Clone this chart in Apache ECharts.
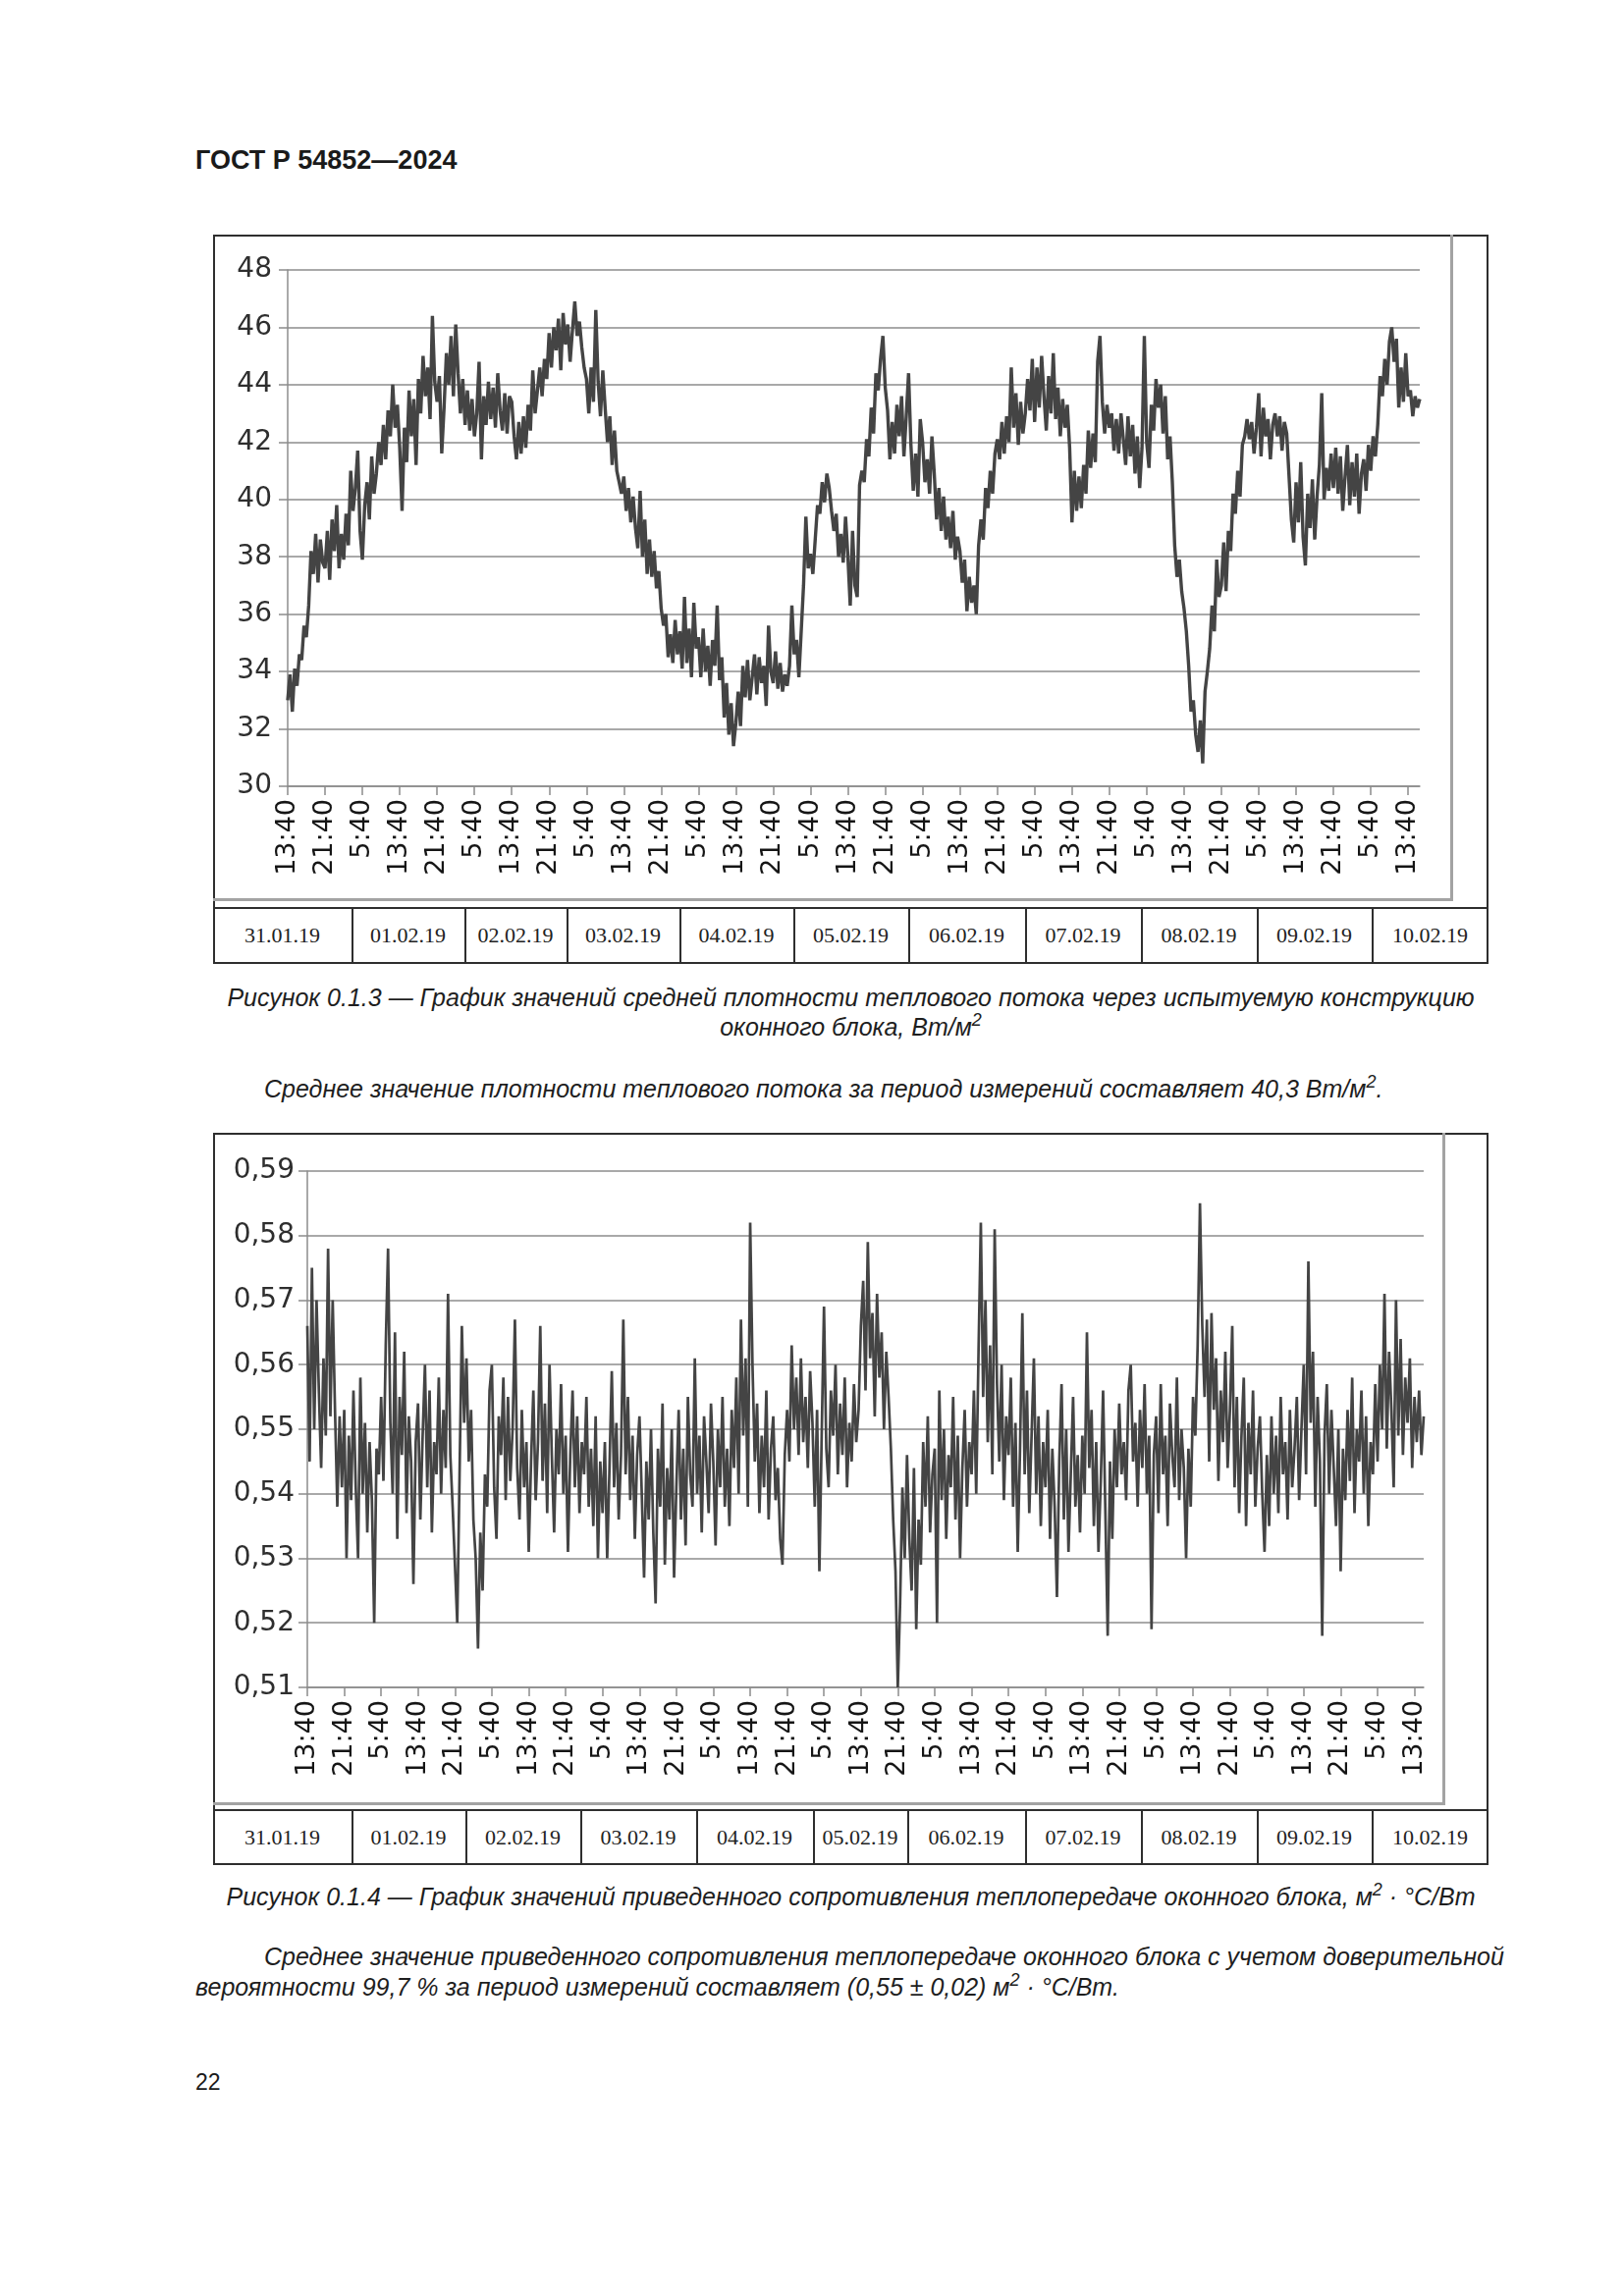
<!DOCTYPE html>
<html><head><meta charset="utf-8">
<script src="https://cdn.jsdelivr.net/npm/echarts@6/dist/echarts.min.js"></script>
<style>
html,body{margin:0;padding:0;background:#fff;}
body{width:1654px;height:2339px;position:relative;overflow:hidden;font-family:'Liberation Sans',Arial,sans-serif;color:#1a1a1a;}
.abs{position:absolute;}
.it{font-style:italic;font-size:25px;line-height:30px;white-space:nowrap;color:#1e1e1e;}
.it sup{font-size:0.72em;line-height:0;position:relative;top:-0.05em;vertical-align:super;}
.frame{position:absolute;border:2px solid #2e2e2e;box-sizing:border-box;}
.inner{position:absolute;border-right:3px solid #a3a3a3;border-bottom:3px solid #a3a3a3;box-sizing:border-box;}
.tline{position:absolute;background:#2e2e2e;}
.cell{position:absolute;font-family:'Liberation Serif','Times New Roman',serif;font-size:22px;color:#222;text-align:center;}
</style></head>
<body>
<div class="abs" style="left:199px;top:147px;font-weight:bold;font-size:27px;line-height:32px;color:#1a1a1a;">ГОСТ Р 54852—2024</div>

<div class="frame" style="left:217px;top:239px;width:1299px;height:743px;"></div>
<div class="inner" style="left:217px;top:239px;width:1263px;height:679px;"></div>
<div id="c1" class="abs" style="left:217px;top:239px;width:1263px;height:676px;"></div>
<div id="t1"></div>

<div class="abs it" style="left:217px;width:1299px;text-align:center;top:1001px;">Рисунок 0.1.3 — График значений средней плотности теплового потока через испытуемую конструкцию</div>
<div class="abs it" style="left:217px;width:1299px;text-align:center;top:1031px;">оконного блока, Вт/м<sup>2</sup></div>
<div class="abs it" style="left:269px;top:1094px;">Среднее значение плотности теплового потока за период измерений составляет 40,3 Вт/м<sup>2</sup>.</div>

<div class="frame" style="left:217px;top:1154px;width:1299px;height:746px;"></div>
<div class="inner" style="left:217px;top:1154px;width:1255px;height:685px;"></div>
<div id="c2" class="abs" style="left:217px;top:1154px;width:1255px;height:682px;"></div>
<div id="t2"></div>

<div class="abs it" style="left:217px;width:1299px;text-align:center;top:1917px;">Рисунок 0.1.4 — График значений приведенного сопротивления теплопередаче оконного блока, м<sup>2</sup> · °С/Вт</div>
<div class="abs it" style="left:269px;top:1978px;">Среднее значение приведенного сопротивления теплопередаче оконного блока с учетом доверительной</div>
<div class="abs it" style="left:199px;top:2009px;">вероятности 99,7 % за период измерений составляет (0,55 ± 0,02) м<sup>2</sup> · °С/Вт.</div>

<div class="abs" style="left:199px;top:2106px;font-size:23px;line-height:30px;">22</div>

<script>
// ---------- data ----------
const tickLabels = ['13:40','21:40','5:40','13:40','21:40','5:40','13:40','21:40','5:40','13:40','21:40','5:40','13:40','21:40','5:40','13:40','21:40','5:40','13:40','21:40','5:40','13:40','21:40','5:40','13:40','21:40','5:40','13:40','21:40','5:40','13:40'];
const dates = ['31.01.19','01.02.19','02.02.19','03.02.19','04.02.19','05.02.19','06.02.19','07.02.19','08.02.19','09.02.19','10.02.19'];
const stepHours = 0.5;      // measurement step, hours from 13:40 31.01.19
const tickHours = 8;        // hours between tick labels

// mean heat flux density, W/m2 (every 30 min)
const heatFlux = [
33.0,33.9,32.6,34.1,33.5,34.6,34.4,35.6,35.2,36.3,38.2,37.4,38.8,37.1,38.6,37.8,
37.6,38.9,37.2,39.3,38.2,39.8,37.6,38.8,37.9,39.5,38.4,41.0,39.6,40.4,41.7,38.9,
37.9,39.8,40.6,39.3,41.5,40.2,40.9,42.0,41.2,42.6,41.4,43.1,42.2,44.0,42.5,43.3,
41.8,39.6,42.5,41.3,43.8,42.2,43.5,41.2,44.2,43.0,45.0,43.6,44.6,42.8,46.4,44.1,
43.4,44.3,41.6,43.2,45.1,44.0,45.7,43.6,46.1,44.4,43.0,44.2,42.6,43.8,42.4,43.5,
42.2,43.0,44.8,41.4,43.6,42.6,44.1,42.8,43.9,42.5,44.4,43.1,42.4,43.7,42.3,43.6,
43.4,42.2,41.4,42.7,41.6,42.9,41.8,43.3,42.4,44.5,43.0,43.8,44.6,43.6,44.9,44.2,
45.8,44.6,46.0,45.2,46.3,44.5,46.5,45.4,46.1,44.8,45.9,46.9,45.7,46.2,45.3,44.6,
44.2,43.0,44.6,43.4,46.6,44.1,42.9,44.5,43.2,42.0,42.9,41.2,42.4,41.0,40.6,40.2,
40.8,39.6,40.4,39.2,40.1,39.0,38.3,40.3,38.0,39.3,37.4,38.6,37.3,38.2,36.9,37.5,
36.2,35.6,36.0,34.5,35.3,34.3,35.8,34.6,35.4,34.1,36.6,34.3,35.5,33.8,36.4,34.8,
35.2,33.8,35.5,34.0,34.9,33.5,35.1,34.2,36.3,33.7,34.5,32.4,33.6,31.8,32.9,31.4,
32.2,33.3,32.1,34.2,33.1,34.4,33.0,33.8,34.6,33.2,34.5,33.6,34.2,32.8,35.6,34.0,
33.6,34.7,33.4,34.3,33.3,33.9,33.5,34.2,36.3,34.6,35.1,33.8,35.4,37.0,39.4,37.6,
38.1,37.4,38.6,39.8,39.5,40.6,39.9,40.9,40.4,39.6,38.9,39.5,38.0,38.8,37.8,39.4,
38.0,36.3,38.9,37.0,36.6,40.5,41.0,40.6,42.1,41.5,43.2,42.3,44.4,43.8,44.9,45.7,
43.9,43.1,41.4,42.7,41.6,43.3,42.2,43.6,41.5,42.9,44.4,41.9,40.3,41.6,40.1,42.8,
42.0,40.6,41.4,40.2,42.2,40.9,39.3,40.4,38.9,40.1,38.6,39.4,38.3,39.6,37.9,38.7,
38.2,37.1,37.9,36.1,37.3,36.4,37.0,36.0,38.4,39.3,38.6,40.4,39.7,41.0,40.2,41.6,
42.1,41.4,42.7,41.6,42.9,42.0,44.6,42.5,43.7,41.9,43.4,42.3,43.0,44.2,43.1,44.9,
42.7,44.6,43.2,45.0,43.6,42.4,44.3,43.0,45.1,42.8,43.9,42.2,43.5,42.5,43.3,41.8,
39.2,41.0,39.6,40.8,39.7,41.2,40.2,42.4,41.1,42.3,41.3,44.8,45.7,43.4,42.3,43.3,
42.5,43.0,41.7,42.8,41.6,43.0,42.1,41.2,42.9,41.5,42.6,40.9,42.2,40.4,41.8,45.7,
42.0,41.1,43.3,42.4,44.2,43.2,44.0,42.3,43.6,41.4,42.2,40.6,38.4,37.3,37.9,36.8,
36.2,35.4,34.2,32.6,33.0,31.8,31.2,32.3,30.8,33.3,34.0,34.8,36.3,35.4,37.9,36.6,
37.0,38.5,36.8,38.9,38.2,40.2,39.5,41.0,40.1,41.9,42.2,42.8,42.1,42.7,41.6,42.5,
43.7,41.5,43.2,42.2,42.8,41.4,42.6,43.0,42.2,42.9,41.7,42.7,42.3,40.8,39.3,38.5,
40.6,39.2,41.3,38.7,37.7,40.2,39.0,40.7,38.6,40.1,41.2,43.7,40.0,41.1,40.3,41.6,
40.4,41.8,40.2,41.5,39.6,40.8,41.9,39.8,41.3,40.1,41.6,39.5,40.9,41.4,40.3,41.9,
41.0,42.2,41.5,42.6,44.3,43.6,44.9,44.0,45.5,46.0,44.8,45.6,43.2,44.6,43.4,45.1,
43.6,43.8,42.9,43.6,43.2,43.5
];

// reduced thermal resistance, m2*C/W (every 30 min)
const resistance = [
0.566,0.545,0.575,0.550,0.570,0.556,0.544,0.561,0.549,0.578,0.552,0.570,0.553,0.538,0.552,0.541,
0.553,0.530,0.549,0.539,0.556,0.541,0.530,0.558,0.540,0.551,0.534,0.548,0.539,0.520,0.547,0.543,
0.555,0.542,0.563,0.578,0.551,0.540,0.565,0.533,0.555,0.546,0.562,0.537,0.552,0.545,0.526,0.548,
0.554,0.536,0.549,0.560,0.541,0.556,0.534,0.548,0.543,0.558,0.540,0.553,0.544,0.571,0.546,0.538,
0.529,0.520,0.543,0.566,0.551,0.561,0.545,0.553,0.536,0.530,0.516,0.534,0.525,0.543,0.538,0.556,
0.560,0.541,0.533,0.552,0.546,0.558,0.539,0.555,0.542,0.550,0.567,0.544,0.536,0.553,0.541,0.548,
0.531,0.545,0.556,0.539,0.548,0.566,0.542,0.554,0.537,0.560,0.546,0.534,0.550,0.543,0.557,0.540,
0.549,0.531,0.546,0.556,0.541,0.552,0.537,0.548,0.543,0.555,0.538,0.547,0.535,0.552,0.530,0.545,
0.537,0.548,0.530,0.544,0.559,0.541,0.551,0.536,0.546,0.567,0.543,0.555,0.539,0.549,0.533,0.546,
0.552,0.540,0.527,0.545,0.536,0.550,0.534,0.523,0.547,0.538,0.554,0.529,0.544,0.536,0.550,0.527,
0.541,0.553,0.536,0.547,0.532,0.555,0.543,0.538,0.561,0.540,0.549,0.534,0.552,0.545,0.537,0.554,
0.545,0.532,0.550,0.541,0.555,0.538,0.547,0.535,0.553,0.544,0.558,0.540,0.567,0.549,0.561,0.538,
0.582,0.560,0.545,0.554,0.537,0.549,0.541,0.556,0.536,0.547,0.552,0.539,0.544,0.533,0.529,0.546,
0.553,0.545,0.563,0.550,0.558,0.546,0.561,0.548,0.555,0.544,0.559,0.551,0.538,0.553,0.528,0.549,
0.569,0.547,0.541,0.556,0.549,0.560,0.543,0.554,0.546,0.558,0.541,0.551,0.545,0.557,0.548,0.553,
0.566,0.573,0.556,0.579,0.561,0.568,0.552,0.571,0.558,0.565,0.550,0.562,0.555,0.547,0.536,0.528,
0.510,0.523,0.541,0.530,0.546,0.533,0.525,0.544,0.519,0.536,0.529,0.548,0.538,0.552,0.534,0.543,
0.547,0.520,0.556,0.539,0.550,0.533,0.546,0.541,0.555,0.536,0.549,0.530,0.544,0.553,0.538,0.548,
0.543,0.556,0.540,0.562,0.582,0.555,0.570,0.548,0.563,0.543,0.581,0.557,0.545,0.560,0.539,0.552,
0.546,0.558,0.538,0.551,0.531,0.547,0.568,0.543,0.556,0.537,0.549,0.561,0.540,0.552,0.535,0.548,
0.541,0.553,0.533,0.547,0.538,0.524,0.545,0.557,0.536,0.550,0.531,0.543,0.555,0.538,0.546,0.534,
0.549,0.540,0.565,0.544,0.553,0.535,0.548,0.531,0.542,0.556,0.537,0.518,0.545,0.533,0.550,0.541,
0.554,0.543,0.548,0.539,0.556,0.560,0.545,0.551,0.538,0.553,0.544,0.557,0.540,0.549,0.519,0.546,
0.552,0.537,0.557,0.543,0.549,0.535,0.554,0.546,0.541,0.558,0.539,0.550,0.544,0.530,0.547,0.538,
0.555,0.549,0.563,0.585,0.566,0.555,0.567,0.545,0.568,0.553,0.561,0.542,0.556,0.548,0.562,0.544,
0.553,0.566,0.541,0.555,0.537,0.549,0.558,0.535,0.551,0.543,0.556,0.538,0.547,0.552,0.540,0.531,
0.546,0.535,0.552,0.540,0.549,0.537,0.555,0.543,0.548,0.536,0.553,0.541,0.547,0.555,0.539,0.550,
0.560,0.543,0.576,0.551,0.562,0.538,0.555,0.545,0.518,0.549,0.557,0.540,0.553,0.544,0.535,0.550,
0.528,0.547,0.539,0.553,0.542,0.558,0.537,0.550,0.545,0.556,0.540,0.552,0.535,0.548,0.543,0.557,
0.545,0.560,0.550,0.571,0.547,0.562,0.553,0.541,0.570,0.549,0.564,0.546,0.558,0.551,0.561,0.544,
0.555,0.548,0.556,0.546,0.552
];

// ---------- layout (page px) ----------
const table1 = {top:924, bottom:982, left:217, right:1516, seps:[358,473,577,692,808,925,1044,1162,1280,1397]};
const table2 = {top:1843, bottom:1900, left:217, right:1516, seps:[358,474,591,709,828,924,1044,1162,1280,1397]};

function buildTable(id, t){
  const host = document.getElementById(id);
  let html = `<div class="tline" style="left:${t.left}px;top:${t.top}px;width:${t.right-t.left}px;height:2px;"></div>`;
  t.seps.forEach(x=>{ html += `<div class="tline" style="left:${x}px;top:${t.top}px;width:1.5px;height:${t.bottom-t.top}px;"></div>`; });
  const edges = [t.left].concat(t.seps, [t.right]);
  dates.forEach((d,i)=>{
    const l = edges[i], r = edges[i+1];
    html += `<div class="cell" style="left:${l}px;width:${r-l}px;top:${t.top}px;height:${t.bottom-t.top}px;line-height:${t.bottom-t.top}px;">${d}</div>`;
  });
  host.innerHTML = html;
}
buildTable('t1', table1);
buildTable('t2', table2);

const tickValues = tickLabels.map((_, i) => i * tickHours);
function xFmt(v){ const i = Math.round(v / tickHours); return (Math.abs(v - i*tickHours) < 1e-6 && tickLabels[i]) ? tickLabels[i] : ''; }

function makeOption(values, cfg){
  return {
    animation:false,
    grid:{left:cfg.left, right:cfg.right, top:cfg.top, bottom:cfg.bottom},
    xAxis:{
      type:'value', min:0, max:(values.length-1)*stepHours, interval:tickHours,
      axisLine:{show:true, lineStyle:{color:'#8c8c8c', width:1.5}},
      axisTick:{show:true, length:9, lineStyle:{color:'#8c8c8c', width:1.5}, customValues:tickValues},
      axisLabel:{rotate:90, margin:13, fontFamily:'DejaVu Sans', fontSize:27, color:'#151515', formatter:xFmt, customValues:tickValues, hideOverlap:false},
      splitLine:{show:false}
    },
    yAxis:{
      type:'value', min:cfg.ymin, max:cfg.ymax, interval:cfg.yint,
      axisLine:{show:true, lineStyle:{color:'#8c8c8c', width:1.5}},
      axisTick:{show:true, length:9, lineStyle:{color:'#8c8c8c', width:1.5}},
      axisLabel:{margin:cfg.ymargin, fontFamily:'DejaVu Sans', fontSize:28, color:'#2e2e2e', formatter:cfg.yfmt},
      splitLine:{show:true, lineStyle:{color:'#8c8c8c', width:1.5}}
    },
    series:[{
      type:'line', showSymbol:false, symbol:'none', sampling:null,
      data: values.map((v,i)=>[i*stepHours, v]),
      lineStyle:{color:'#444444', width:cfg.lw}
    }]
  };
}

const c1 = echarts.init(document.getElementById('c1'), null, {renderer:'canvas'});
c1.setOption(makeOption(heatFlux, {left:76, right:34, top:36, bottom:114, ymin:30, ymax:48, yint:2, ymargin:16, lw:3.4,
  yfmt:v=>String(Math.round(v))}));

const c2 = echarts.init(document.getElementById('c2'), null, {renderer:'canvas'});
c2.setOption(makeOption(resistance, {left:96, right:22, top:39, bottom:117, ymin:0.51, ymax:0.59, yint:0.01, ymargin:13, lw:2.7,
  yfmt:v=>v.toFixed(2).replace('.', ',')}));
</script>
</body></html>
